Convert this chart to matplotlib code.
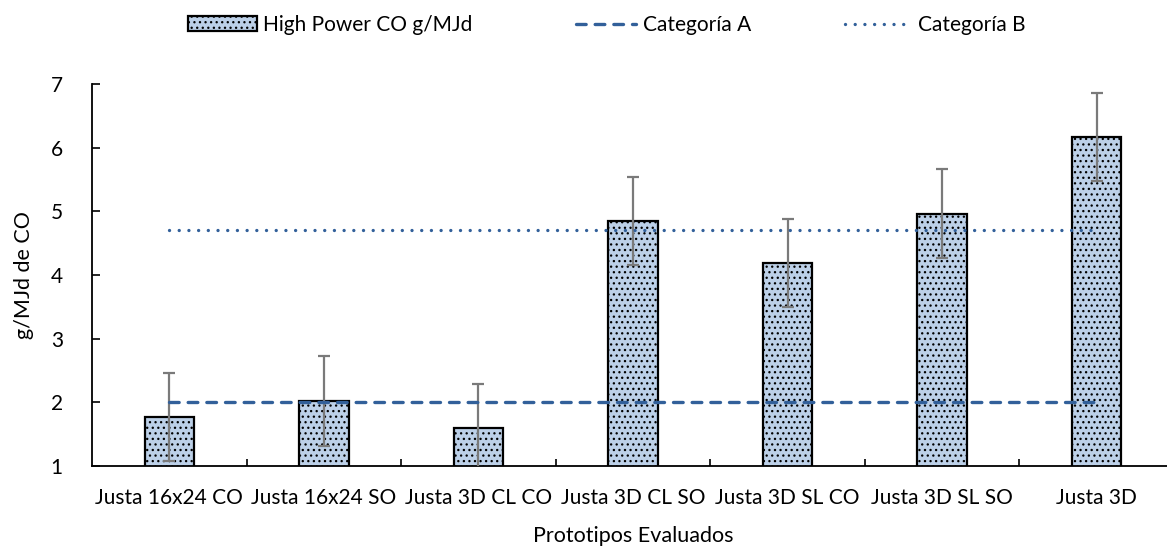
import numpy as np
import matplotlib.pyplot as plt
from matplotlib.ticker import FixedLocator, NullFormatter

plt.rcParams['font.family'] = ['Lato', 'DejaVu Sans']
plt.rcParams['hatch.linewidth'] = 0.9

prototipos = ["Justa 16x24 CO", "Justa 16x24 SO", "Justa 3D CL CO",
              "Justa 3D CL SO", "Justa 3D SL CO", "Justa 3D SL SO", "Justa 3D"]
co_high = [1.77, 2.02, 1.60, 4.85, 4.19, 4.96, 6.17]
co_err = [0.69, 0.70, 0.69, 0.69, 0.69, 0.70, 0.69]
cat_a = [2.0] * 7
cat_b = [4.7] * 7

azul = '#32609a'
fs = 15

fig = plt.figure(figsize=(11.67, 5.48), dpi=100)
ax = fig.add_axes([92 / 1167, 1 - 466 / 548, 1082 / 1167, 382 / 548])

x = np.arange(len(prototipos))
bars = ax.bar(x, co_high, width=0.32, color='#bcd0e8', edgecolor='black',
              linewidth=1.6, hatch='...', label='High Power CO g/MJd', zorder=2)
ax.errorbar(x, co_high, yerr=co_err, fmt='none', ecolor='#7a7a7a', elinewidth=1.6,
            capsize=4.5, capthick=1.6, zorder=3)
la, = ax.plot(x, cat_a, color=azul, lw=2.4, ls=(0, (2.9, 2.7)), dash_capstyle='round',
              label='Categoría A', zorder=4)
lb, = ax.plot(x, cat_b, color=azul, lw=2.4, ls=(0, (0.01, 2.9)), dash_capstyle='round',
              label='Categoría B', zorder=4)

ax.set_ylim(1, 7)
ax.set_xlim(-0.5, 6.5)
ax.set_yticks(range(1, 8))
ax.xaxis.set_major_locator(FixedLocator(x[:-1] + 0.5))
ax.xaxis.set_major_formatter(NullFormatter())
ax.xaxis.set_minor_locator(FixedLocator(x))
ax.set_xticklabels(prototipos, minor=True)
ax.tick_params(axis='x', which='minor', length=0, pad=16, labelsize=fs)
ax.tick_params(axis='x', which='major', direction='in', length=5, width=1.2)
ax.tick_params(axis='y', direction='in', length=6, width=1.2, pad=21, labelsize=fs)
for s in ['top', 'right']:
    ax.spines[s].set_visible(False)
for s in ['left', 'bottom']:
    ax.spines[s].set_linewidth(1.3)

ax.set_xlabel('Prototipos Evaluados', fontsize=15.5, labelpad=13)
ax.set_ylabel('g/MJd de CO', fontsize=15.5, labelpad=12)

# one legend per entry, placed by the left edge of its key
ley_y = 1 - 25 / 548
entradas = [(bars, 188, 3.3, 0.3), (la, 576, 2.9, 0.3), (lb, 845, 2.85, 0.65)]
for h, x0, hl, tp in entradas:
    fig.legend([h], [h.get_label()], loc='center left', bbox_to_anchor=(x0 / 1167, ley_y),
               frameon=False, fontsize=fs, handlelength=hl, handleheight=0.75,
               handletextpad=tp, borderpad=0, borderaxespad=0)

fig.savefig('out.png', dpi=100)
